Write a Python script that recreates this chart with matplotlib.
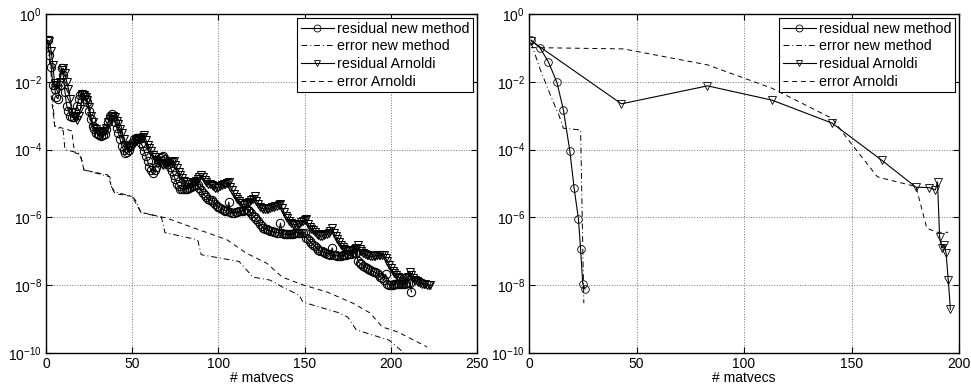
import numpy as np
import matplotlib.pyplot as plt

plt.rcParams['font.family'] = ['Liberation Sans', 'DejaVu Sans']
plt.rcParams['mathtext.fontset'] = 'custom'
plt.rcParams['mathtext.rm'] = 'Liberation Sans'
plt.rcParams['mathtext.it'] = 'Liberation Sans:italic'
plt.rcParams['font.size'] = 10

# ---- left panel: log10 of the values, one per matvec ----
left_new_log = [
    -0.77, -1.2, -1.55, -2.1, -2.2, -2.45, -2.5, -2.1, -1.6, -1.8,
    -2.3, -2.7, -2.85, -3.0, -3.05, -3.05, -2.9, -2.7, -2.5, -2.4,
    -2.35, -2.4, -2.5, -2.6, -2.85, -3.1, -3.3, -3.4, -3.5, -3.55,
    -3.58, -3.6, -3.58, -3.55, -3.4, -3.2, -3.0, -2.95, -3.05, -3.2,
    -3.35, -3.5, -3.7, -3.9, -4.0, -4.1, -4.08, -4.0, -3.9, -3.8,
    -3.7, -3.65, -3.65, -3.7, -3.8, -3.9, -4.05, -4.2, -4.35, -4.5,
    -4.6, -4.7, -4.6, -4.5, -4.38, -4.25, -4.22, -4.2, -4.28, -4.35,
    -4.42, -4.5, -4.62, -4.75, -4.88, -5.0, -5.08, -5.15, -5.15, -5.15,
    -5.15, -5.15, -5.12, -5.1, -5.08, -5.05, -5.05, -5.05, -5.12, -5.2,
    -5.28, -5.35, -5.4, -5.45, -5.48, -5.5, -5.55, -5.6, -5.65, -5.7,
    -5.72, -5.75, -5.78, -5.8, -5.82, -5.55, -5.85, -5.87, -5.86, -5.85,
    -5.84, -5.82, -5.81, -5.8, -5.78, -5.75, -5.78, -5.8, -5.88, -5.95,
    -6.0, -6.05, -6.12, -6.2, -6.25, -6.3, -6.33, -6.35, -6.38, -6.4,
    -6.41, -6.42, -6.44, -6.45, -6.45, -6.17, -6.47, -6.5, -6.5, -6.5,
    -6.5, -6.5, -6.48, -6.45, -6.45, -6.45, -6.45, -6.45, -6.45, -6.45,
    -6.6, -6.65, -6.7, -6.75, -6.8, -6.85, -6.9, -6.95, -6.98, -7.0,
    -7.02, -7.05, -7.07, -7.08, -7.1, -6.9, -7.1, -7.12, -7.14, -7.15,
    -7.13, -7.12, -7.11, -7.1, -7.09, -7.08, -7.07, -7.05, -7.05, -7.05,
    -7.3, -7.35, -7.38, -7.42, -7.45, -7.5, -7.52, -7.55, -7.58, -7.6,
    -7.62, -7.65, -7.7, -7.75, -7.8, -7.85, -7.68, -7.95, -7.98, -8.0,
    -7.98, -7.97, -7.96, -7.95, -7.95, -7.95, -7.95, -7.95, -7.94, -7.93,
    -7.93, -8.2]

left_arn_log = [
    -0.78, -0.8, -1.1, -1.5, -2.05, -2.1, -2.2, -2.0, -1.65, -1.6,
    -1.75, -2.0, -2.2, -2.5, -2.9, -3.0, -3.05, -3.13, -3.0, -2.8,
    -2.37, -2.4, -2.45, -2.55, -2.75, -3.0, -3.2, -3.35, -3.4, -3.45,
    -3.48, -3.5, -3.48, -3.45, -3.35, -3.2, -3.1, -3.0, -3.02, -3.05,
    -3.15, -3.25, -3.38, -3.5, -3.68, -3.85, -3.9, -3.95, -3.92, -3.9,
    -3.82, -3.75, -3.72, -3.7, -3.66, -3.62, -3.58, -3.72, -3.85, -3.95,
    -4.05, -4.15, -4.22, -4.3, -4.35, -4.4, -4.42, -4.45, -4.42, -4.4,
    -4.39, -4.38, -4.36, -4.35, -4.45, -4.55, -4.65, -4.75, -4.85, -4.92,
    -4.96, -5.0, -5.0, -5.0, -4.98, -4.95, -4.92, -4.88, -4.82, -4.75,
    -4.82, -4.9, -4.95, -5.0, -5.02, -5.05, -5.08, -5.12, -5.12, -5.1,
    -5.08, -5.05, -5.02, -5.0, -4.98, -4.97, -5.1, -5.2, -5.3, -5.4,
    -5.46, -5.52, -5.58, -5.62, -5.62, -5.6, -5.58, -5.55, -5.5, -5.45,
    -5.36, -5.52, -5.6, -5.68, -5.72, -5.75, -5.75, -5.75, -5.74, -5.72,
    -5.7, -5.68, -5.67, -5.65, -5.62, -5.6, -5.72, -5.85, -5.95, -6.02,
    -6.1, -6.17, -6.2, -6.22, -6.21, -6.2, -6.18, -6.15, -6.1, -6.08,
    -6.05, -6.2, -6.27, -6.33, -6.38, -6.43, -6.48, -6.52, -6.54, -6.55,
    -6.53, -6.5, -6.48, -6.45, -6.4, -6.32, -6.45, -6.55, -6.65, -6.72,
    -6.8, -6.88, -6.93, -6.97, -6.99, -7.0, -6.98, -6.95, -6.92, -6.9,
    -6.8, -6.92, -7.0, -7.05, -7.08, -7.1, -7.12, -7.15, -7.15, -7.15,
    -7.13, -7.12, -7.11, -7.1, -7.1, -7.1, -7.2, -7.3, -7.4, -7.5,
    -7.58, -7.65, -7.7, -7.75, -7.78, -7.8, -7.8, -7.8, -7.78, -7.75,
    -7.6, -7.7, -7.8, -7.85, -7.88, -7.9, -7.93, -7.95, -7.96, -7.97,
    -7.98, -7.99, -8.0]

left_new_x = np.arange(1, len(left_new_log) + 1)
left_arn_x = np.arange(1, len(left_arn_log) + 1)

left_errnew_x = [1, 3, 5, 10, 11, 19, 21, 22, 37, 38, 40, 50, 52, 55, 67, 69, 88, 90, 112, 120,
                 130, 137, 147, 149, 169, 175, 180, 199, 207, 209]
left_errnew_log = [-0.95, -1.8, -3.3, -3.45, -4.0, -4.1, -4.35, -4.6, -4.8, -5.1, -5.25, -5.38, -5.5, -5.85, -6.0, -6.45, -6.66, -7.1, -7.3, -7.76,
                   -7.85, -8.05, -8.3, -8.5, -8.8, -8.94, -9.32, -9.62, -9.97, -10.1]

left_errarn_x = [3, 5, 15, 16, 17, 20, 22, 36, 38, 40, 50, 55, 70, 89, 105, 116, 128, 137, 149, 163,
                 178, 188, 195, 204, 221]
left_errarn_log = [-2.4, -3.3, -3.45, -3.9, -4.1, -4.15, -4.6, -4.75, -5.1, -5.3, -5.38, -5.85, -6.02, -6.37, -6.66, -7.05, -7.35, -7.76, -7.99, -8.2,
                   -8.53, -8.82, -9.23, -9.38, -9.82]

# ---- right panel ----
right_new_x = [1, 5, 9, 13, 16, 19, 21, 23, 24, 25, 26]
right_new_log = [-0.77, -0.99, -1.41, -2.02, -2.83, -4.04, -5.14, -6.05, -6.94, -7.96, -8.11]

right_errnew_x = [1, 5, 10, 14, 16, 24, 25.5]
right_errnew_log = [-0.85, -1.6, -2.4, -3.0, -3.37, -3.42, -8.53]

right_arn_x = [1, 43, 83, 113, 141, 164, 180, 186, 189, 190, 191, 192, 193, 194, 195, 196]
right_arn_log = [-0.79, -2.65, -2.12, -2.54, -3.22, -4.31, -5.11, -5.12, -5.19, -4.96, -6.59, -6.91, -6.8, -7.06, -7.85, -8.71]

right_errarn_x = [1, 44, 83, 113, 141, 148, 162, 166, 180, 185, 190, 195]
right_errarn_log = [-0.99, -1.03, -1.5, -2.19, -3.08, -3.67, -4.8, -4.87, -5.09, -6.32, -6.44, -6.44]

labels = ['residual new method', 'error new method', 'residual Arnoldi', 'error Arnoldi']

fig = plt.figure(figsize=(9.71, 3.88), dpi=100)
ax1 = fig.add_axes([46 / 971, 35 / 388, 431 / 971, 339 / 388])
ax2 = fig.add_axes([529 / 971, 35 / 388, 430 / 971, 339 / 388])

dashdot = (0, (6, 3, 1, 3))
dashed = (0, (5, 4))


def draw(ax, nx, nl, ex, el, ax_, al, fx, fl, xmax, ms, mew):
    ax.semilogy(nx, 10.0 ** np.array(nl), '-o', color='k', lw=0.8, ms=ms, mfc='none', mew=mew,
                label=labels[0])
    ax.semilogy(ex, 10.0 ** np.array(el), color='k', lw=0.7, ls=dashdot, label=labels[1])
    ax.semilogy(ax_, 10.0 ** np.array(al), '-v', color='k', lw=0.8, ms=ms, mfc='none', mew=mew,
                label=labels[2])
    ax.semilogy(fx, 10.0 ** np.array(fl), color='k', lw=0.7, ls=dashed, label=labels[3])
    ax.set_xlim(0, xmax)
    ax.set_ylim(1e-10, 1)
    ax.set_xticks(np.arange(0, xmax + 1, 50))
    ax.set_yticks([1e-10, 1e-8, 1e-6, 1e-4, 1e-2, 1])
    ax.minorticks_off()
    ax.tick_params(direction='in', top=True, right=True, length=4, width=0.8, labelsize=10, pad=3)
    ax.grid(True, ls=':', color='0.45', lw=0.7)
    for s in ax.spines.values():
        s.set_linewidth(1.0)
    ax.set_xlabel('# matvecs', fontsize=10, labelpad=0)
    leg = ax.legend(loc='upper right', fontsize=10.3, fancybox=False, framealpha=1, edgecolor='k',
                    borderaxespad=0.3, borderpad=0.25, labelspacing=0.25, handlelength=2.3,
                    handletextpad=0.2)
    leg.get_frame().set_linewidth(0.8)
    for h in leg.legend_handles:
        h.set_markersize(5)
        h.set_markeredgewidth(0.6)


draw(ax1, left_new_x, left_new_log, left_errnew_x, left_errnew_log,
     left_arn_x, left_arn_log, left_errarn_x, left_errarn_log, 250, 6, 0.75)
draw(ax2, right_new_x, right_new_log, right_errnew_x, right_errnew_log,
     right_arn_x, right_arn_log, right_errarn_x, right_errarn_log, 200, 5.5, 0.6)

fig.savefig('out.png', dpi=100)
